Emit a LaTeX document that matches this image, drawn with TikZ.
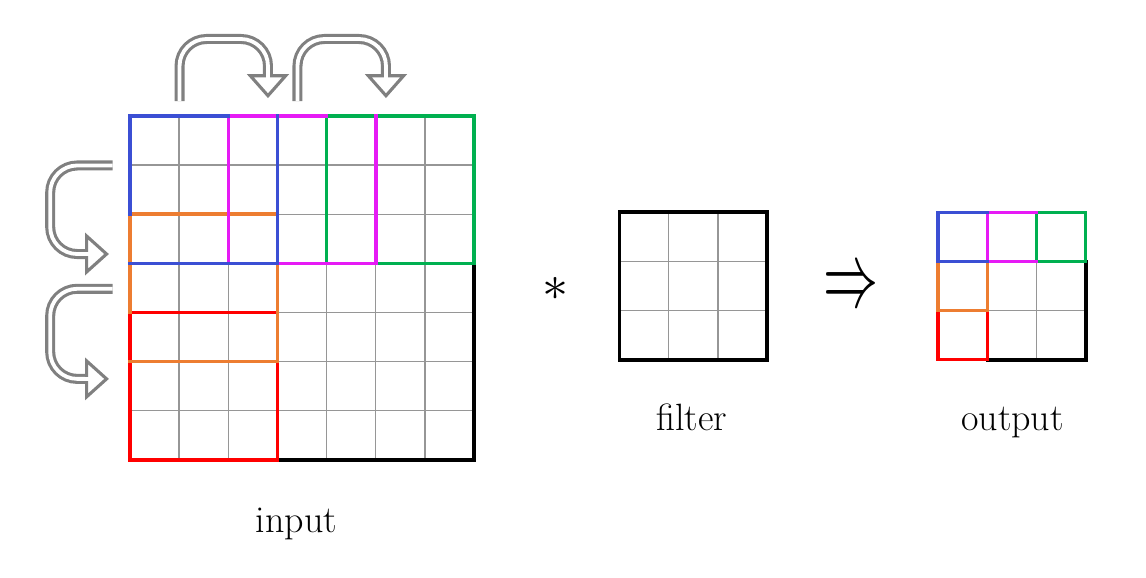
\documentclass[tikz,border=0pt]{standalone}
\usepackage{graphicx}
\usepackage{tikz}
\definecolor{winblue}{RGB}{59,79,212}
\definecolor{winmagenta}{RGB}{230,26,245}
\definecolor{wingreen}{RGB}{0,176,80}
\definecolor{winorange}{RGB}{237,125,49}
\definecolor{winred}{RGB}{255,0,0}
\definecolor{gridgray}{RGB}{150,150,150}
\definecolor{arrowgray}{RGB}{128,128,128}
\tikzset{
  gridline/.style={draw=gridgray, line width=0.75pt},
  frame/.style={draw=black, line width=2.1pt, line cap=rect},
  win/.style={line width=2pt, line cap=rect, line join=miter},
  turn/.style={draw=arrowgray, line width=1.8pt, double=white, double distance=2.2pt, rounded corners=0.55cm},
  turnhead/.style={draw=arrowgray, fill=white, line width=1.8pt, line join=miter},
  lbl/.style={font=\fontsize{22}{26}\selectfont, anchor=base, inner sep=0pt}
}
\begin{document}
\begin{tikzpicture}
\useasboundingbox (-2.644,-2.40) rectangle (20.667,9.357);
% input
\draw[gridline] (0,0) grid (7,7);
\draw[frame] (7,4) -- (7,0) -- (3,0);
\draw[win, winred] (0,3) -- (3,3) (3,2) -- (3,0) -- (0,0) -- (0,3);
\draw[win, winorange] (3,5) -- (0,5) -- (0,3) (0,2) -- (3,2) -- (3,4);
\draw[win, wingreen] (4,4) -- (4,7) -- (7,7) -- (7,4) -- (5,4);
\draw[win, winmagenta] (4,7) -- (2,7) -- (2,4) (5,7) -- (5,4) -- (3,4);
\draw[win, winblue] (2,7) -- (0,7) -- (0,5) (3,7) -- (3,4) -- (0,4);
% filter
\begin{scope}[shift={(9.96,2.04)}]
\draw[gridline] (0,0) grid (3,3);
\draw[frame] (0,0) rectangle (3,3);
\end{scope}
% output
\begin{scope}[shift={(16.44,2.04)}]
\draw[gridline] (0,0) grid (3,3);
\draw[frame] (3,2) -- (3,0) -- (1,0);
\draw[win, winred] (0,1) -- (0,0) -- (1,0) -- (1,1);
\draw[win, winorange] (0,2) -- (0,1) -- (1,1) -- (1,2);
\draw[win, wingreen] (2,2) rectangle (3,3);
\draw[win, winmagenta] (1,2) -- (1,3) -- (2,3) (1,2) -- (2,2);
\draw[win, winblue] (1,3) -- (0,3) -- (0,2) -- (1,2);
\end{scope}
\node (conv) at (8.666,3.489) {\resizebox{0.53cm}{0.47cm}{$\ast$}};
\node (gives) at (14.657,3.458) {\resizebox{1.12cm}{0.69cm}{$\Rightarrow$}};
\node[lbl] (inlabel) at (3.387,-1.465) {input};
\node[lbl] (filterlabel) at (11.43,0.61) {filter};
\node[lbl] (outlabel) at (17.95,0.61) {output};
% stride arrows
\foreach \s/\e in {1.008/2.807, 3.407/5.207}{
  \coordinate (tail) at (\s,7.30);
  \coordinate (bend) at (\e,8.564);
  \coordinate (base) at (\e,7.817);
  \draw[turn] (tail) |- (bend) -- (base);
  \filldraw[turnhead] (base) ++(-0.36,0) -- ++(0.36,-0.407) -- ++(0.36,0.407) -- cycle;
  \draw[white, line width=2.2pt] ([yshift=1.5pt]base) -- ([yshift=-1.2pt]base);
}
\foreach \s/\b in {5.991/4.19, 3.483/1.65}{
  \coordinate (tail) at (-0.352,\s);
  \coordinate (bend) at (-1.623,\b);
  \coordinate (base) at (-0.883,\b);
  \draw[turn] (tail) -| (bend) -- (base);
  \filldraw[turnhead] (base) ++(0,0.366) -- ++(0.407,-0.366) -- ++(-0.407,-0.366) -- cycle;
  \draw[white, line width=2.2pt] ([xshift=-1.5pt]base) -- ([xshift=1.2pt]base);
}
\end{tikzpicture}
\end{document}
